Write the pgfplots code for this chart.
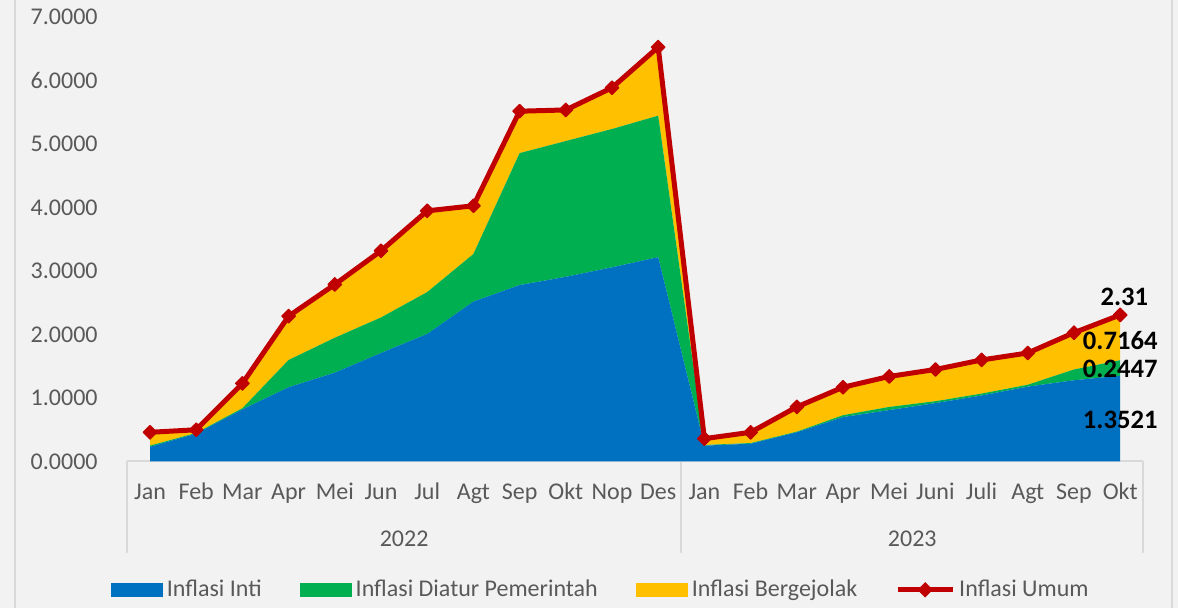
\documentclass[border=0pt]{standalone}
\usepackage{fontspec}
\setmainfont{Carlito}
\usepackage{pgfplots}
\pgfplotsset{compat=1.18}
\definecolor{bg}{HTML}{F2F2F2}
\definecolor{inti}{HTML}{0070C0}
\definecolor{diatur}{HTML}{00B050}
\definecolor{gejolak}{HTML}{FFC000}
\definecolor{umum}{HTML}{C00000}
\definecolor{txt}{HTML}{595959}
\definecolor{sepc}{HTML}{D9D9D9}
\pgfplotsset{common/.style={
  at={(63.45pt,73.25pt)}, anchor=south west, scale only axis,
  width=508.2pt, height=222.1pt,
  xmin=-0.5, xmax=21.5, ymin=0, ymax=7, clip=false,
},
arealeg/.style={legend image code/.code={\fill[##1] (0pt,-3.5pt) rectangle (26pt,3.5pt);}},
lineleg/.style={legend image code/.code={\draw[mark repeat=2,mark phase=2,##1] plot coordinates {(0pt,0pt)(13.75pt,0pt)(27.5pt,0pt)};}},
}
\begin{document}
\begin{tikzpicture}
\useasboundingbox (0pt,0pt) rectangle (589pt,304pt);
\fill[bg] (0pt,0pt) rectangle (589pt,304pt);
\draw[sepc, line width=1pt] (7.5pt,0pt) -- (7.5pt,304pt);
\draw[sepc, line width=1pt] (585.75pt,0pt) -- (585.75pt,304pt);
\begin{axis}[common,
  stack plots=y,
  axis x line*=bottom, axis y line*=left,
  y axis line style={draw=none},
  x axis line style={sepc, line width=1pt, -},
  major tick length=0pt,
  xtick={0,...,21},
  xticklabels={Jan,Feb,Mar,Apr,Mei,Jun,Jul,Agt,Sep,Okt,Nop,Des,Jan,Feb,Mar,Apr,Mei,Juni,Juli,Agt,Sep,Okt},
  xticklabel style={anchor=base, yshift=-19.1pt, font=\fontsize{12}{14}\selectfont, text=txt},
  ytick={0,1,2,3,4,5,6,7},
  yticklabel style={anchor=east, inner sep=0pt, xshift=-14.45pt, font=\fontsize{12}{14}\selectfont, text=txt},
  yticklabel={\pgfmathprintnumber[fixed,fixed zerofill,precision=4,assume math mode=true]{\tick}},
  legend columns=4,
  legend cell align=left,
  legend style={at={(axis description cs:0.4672,-0.289)}, anchor=center, draw=none, fill=none,
    font=\fontsize{12}{14}\selectfont, text=txt, nodes={inner sep=2pt},
    /tikz/every even column/.append style={column sep=17pt}},
]
\addplot[fill=inti, draw=none, arealeg]
  coordinates {(0,0.23)(1,0.44)(2,0.82)(3,1.17)(4,1.40)(5,1.71)(6,2.01)(7,2.52)(8,2.78)(9,2.91)(10,3.06)(11,3.22)
  (12,0.25)(13,0.28)(14,0.46)(15,0.70)(16,0.81)(17,0.92)(18,1.04)(19,1.18)(20,1.28)(21,1.3521)} \closedcycle;
\addlegendentry{Inflasi Inti}
\addplot[fill=diatur, draw=none, arealeg]
  coordinates {(0,0.02)(1,0.01)(2,0.02)(3,0.43)(4,0.55)(5,0.56)(6,0.66)(7,0.75)(8,2.08)(9,2.14)(10,2.18)(11,2.23)
  (12,0.01)(13,0.01)(14,0.01)(15,0.03)(16,0.05)(17,0.03)(18,0.03)(19,0.03)(20,0.17)(21,0.2447)} \closedcycle;
\addlegendentry{Inflasi Diatur Pemerintah}
\addplot[fill=gejolak, draw=none, arealeg]
  coordinates {(0,0.21)(1,0.05)(2,0.37)(3,0.69)(4,0.84)(5,1.05)(6,1.28)(7,0.76)(8,0.66)(9,0.49)(10,0.65)(11,1.08)
  (12,0.10)(13,0.17)(14,0.39)(15,0.44)(16,0.48)(17,0.50)(18,0.53)(19,0.50)(20,0.58)(21,0.7164)} \closedcycle;
\addlegendentry{Inflasi Bergejolak}
\addlegendimage{umum, line width=2.5pt, mark=square*, mark size=2.4pt, mark options={rotate=45, line width=0.6pt}, lineleg}
\addlegendentry{Inflasi Umum}
\draw[sepc, line width=1pt] (axis cs:-0.5,0) -- ++(0pt,-46pt);
\draw[sepc, line width=1pt] (axis cs:11.5,0) -- ++(0pt,-46pt);
\draw[sepc, line width=1pt] (axis cs:21.5,0) -- ++(0pt,-46pt);
\node[anchor=base, yshift=-42.6pt, font=\fontsize{12}{14}\selectfont, text=txt] at (axis cs:5.5,0) {2022};
\node[anchor=base, yshift=-42.6pt, font=\fontsize{12}{14}\selectfont, text=txt] at (axis cs:16.5,0) {2023};
\end{axis}
\begin{axis}[common, axis lines=none, xtick=\empty, ytick=\empty]
\addplot[umum, line width=2.5pt, line join=round, mark=square*, mark size=2.4pt, mark options={rotate=45, line width=0.6pt}]
  coordinates {(0,0.46)(1,0.50)(2,1.23)(3,2.29)(4,2.79)(5,3.32)(6,3.95)(7,4.03)(8,5.52)(9,5.54)(10,5.89)(11,6.53)
  (12,0.36)(13,0.46)(14,0.86)(15,1.17)(16,1.34)(17,1.45)(18,1.60)(19,1.71)(20,2.03)(21,2.31)};
\node[font=\bfseries\fontsize{13.3}{15}\selectfont] at (axis cs:21.09,2.59) {2.31};
\node[font=\bfseries\fontsize{13.3}{15}\selectfont] at (axis cs:21,1.913) {0.7164};
\node[font=\bfseries\fontsize{13.3}{15}\selectfont] at (axis cs:21,1.452) {0.2447};
\node[font=\bfseries\fontsize{13.3}{15}\selectfont] at (axis cs:21,0.654) {1.3521};
\end{axis}
\end{tikzpicture}
\end{document}
